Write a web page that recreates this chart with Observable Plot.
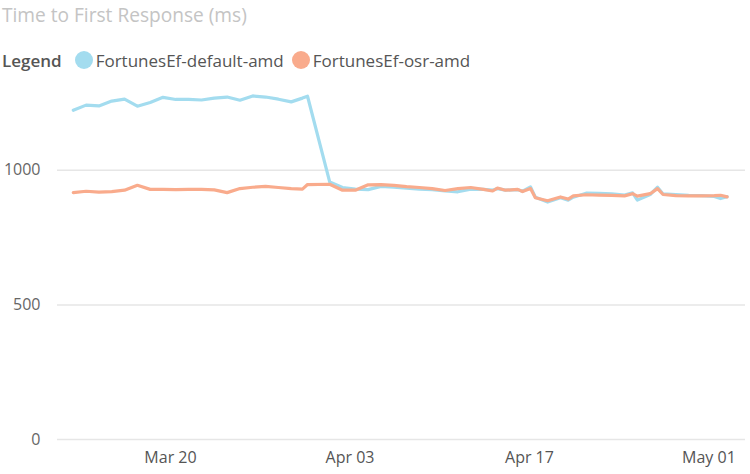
<!DOCTYPE html>
<html><head><meta charset="utf-8">
<script src="https://cdn.jsdelivr.net/npm/d3@7"></script>
<script src="https://cdn.jsdelivr.net/npm/@observablehq/plot@0.6"></script>
<style>
body{margin:0;background:#fff;font-family:"Open Sans",sans-serif;width:750px;height:474px;overflow:hidden;position:relative}
#title{position:absolute;left:2px;top:0;height:30px;font-size:18.5px;color:#c4c4c4;line-height:30px;white-space:nowrap}
#legend{position:absolute;left:2px;top:46px;height:28px;display:flex;align-items:center;font-size:17px;color:#555;white-space:nowrap}
#legend .lbl{font-weight:600;margin-right:13px}
#legend .sw{width:18px;height:18px;border-radius:50%;display:inline-block;margin-right:3px}
#legend .item{display:flex;align-items:center;margin-right:8px}
#chart{position:absolute;left:0;top:75px}
svg{display:block}
</style>
</head><body>
<div id="title">Time to First Response (ms)</div>
<div id="legend"></div>
<div id="chart"></div>
<script>
const seriesNames = ["FortunesEf-default-amd", "FortunesEf-osr-amd"];
const seriesColors = ["#a3dcef", "#f9ab8c"];
const dates = [
  "2022-03-12T10:00Z","2022-03-13T10:00Z","2022-03-14T10:00Z","2022-03-15T10:00Z","2022-03-16T10:00Z",
  "2022-03-17T10:00Z","2022-03-18T10:00Z","2022-03-19T10:00Z","2022-03-20T10:00Z","2022-03-21T10:00Z",
  "2022-03-22T10:00Z","2022-03-23T10:00Z","2022-03-24T10:00Z","2022-03-25T10:00Z","2022-03-26T10:00Z",
  "2022-03-27T10:00Z","2022-03-28T10:00Z","2022-03-29T10:00Z","2022-03-30T07:00Z","2022-03-30T16:30Z",
  "2022-04-01T10:00Z","2022-04-02T10:00Z","2022-04-03T10:00Z","2022-04-04T10:00Z","2022-04-05T10:00Z",
  "2022-04-06T10:00Z","2022-04-07T10:00Z","2022-04-08T10:00Z","2022-04-09T10:00Z","2022-04-10T10:00Z",
  "2022-04-11T10:00Z","2022-04-12T10:00Z","2022-04-13T10:00Z","2022-04-14T03:00Z","2022-04-14T12:00Z",
  "2022-04-15T03:00Z","2022-04-16T02:00Z","2022-04-16T11:00Z","2022-04-17T02:00Z","2022-04-17T11:00Z",
  "2022-04-18T10:00Z","2022-04-19T10:00Z","2022-04-20T00:30Z","2022-04-20T10:00Z","2022-04-21T10:00Z",
  "2022-04-22T10:00Z","2022-04-23T10:00Z","2022-04-24T10:00Z","2022-04-25T01:00Z","2022-04-25T10:00Z",
  "2022-04-26T10:00Z","2022-04-26T23:45Z","2022-04-27T10:00Z","2022-04-28T10:00Z","2022-04-29T10:00Z",
  "2022-04-30T10:00Z","2022-05-01T10:00Z","2022-05-01T21:40Z","2022-05-02T10:00Z"
];
const defaultAmd = [
  1223,1242,1239,1257,1264,
  1238,1252,1271,1263,1263,
  1261,1268,1272,1260,1276,
  1272,1264,1254,1268,1275,
  957,936,930,928,940,
  937,934,930,928,923,
  920,930,929,926,932,
  926,928,922,938,900,
  882,898,889,900,915,
  914,912,908,916,889,
  910,937,912,910,907,
  906,903,895,902
];
const osrAmd = [
  917,922,919,921,926,
  944,929,929,928,929,
  929,927,917,932,937,
  940,936,932,930,947,
  948,926,926,946,947,
  944,939,936,932,925,
  932,936,929,923,934,
  926,929,921,932,898,
  887,901,893,905,909,
  908,907,905,913,904,
  913,932,910,906,905,
  905,906,907,901
];
const yTicks = [0, 500, 1000];
const xTicks = ["2022-03-20", "2022-04-03", "2022-04-17", "2022-05-01"];

// fit title width to the reference (~245px)
const title = document.getElementById("title");
const tw = title.getBoundingClientRect().width;
if (tw > 0) title.style.fontSize = (18.5 * 245 / tw).toFixed(2) + "px";

const legend = document.getElementById("legend");
legend.innerHTML = '<span class="lbl">Legend</span>' + seriesNames.map((n, i) =>
  `<span class="item"><span class="sw" style="background:${seriesColors[i]}"></span>${n}</span>`).join("");

const rows = [];
[defaultAmd, osrAmd].forEach((vals, s) => {
  vals.forEach((v, i) => rows.push({series: seriesNames[s], date: new Date(dates[i]), value: v}));
});

const chart = Plot.plot({
  width: 750,
  height: 399,
  marginLeft: 57,
  marginRight: 5,
  marginTop: 14,
  marginBottom: 35,
  style: {fontFamily: "Open Sans", fontSize: "16px", color: "#666", background: "#fff"},
  x: {type: "utc", domain: [new Date("2022-03-11T04:28Z"), new Date("2022-05-03T20:24Z")]},
  y: {domain: [0, 1300]},
  color: {domain: seriesNames, range: seriesColors},
  marks: [
    Plot.gridY(yTicks, {stroke: "#e6e6e6", strokeOpacity: 1, strokeWidth: 1.5}),
    Plot.axisY(yTicks, {tickSize: 0, tickPadding: 17, label: null, color: "#666", tickFormat: d => String(d)}),
    Plot.axisX(xTicks.map(d => new Date(d)), {tickSize: 0, tickPadding: 12, label: null, color: "#555", tickFormat: d3.utcFormat("%b %d")}),
    Plot.line(rows, {x: "date", y: "value", z: "series", stroke: "series", strokeWidth: 3.2, strokeLinejoin: "round"})
  ]
});
document.getElementById("chart").appendChild(chart);
</script>
</body></html>
